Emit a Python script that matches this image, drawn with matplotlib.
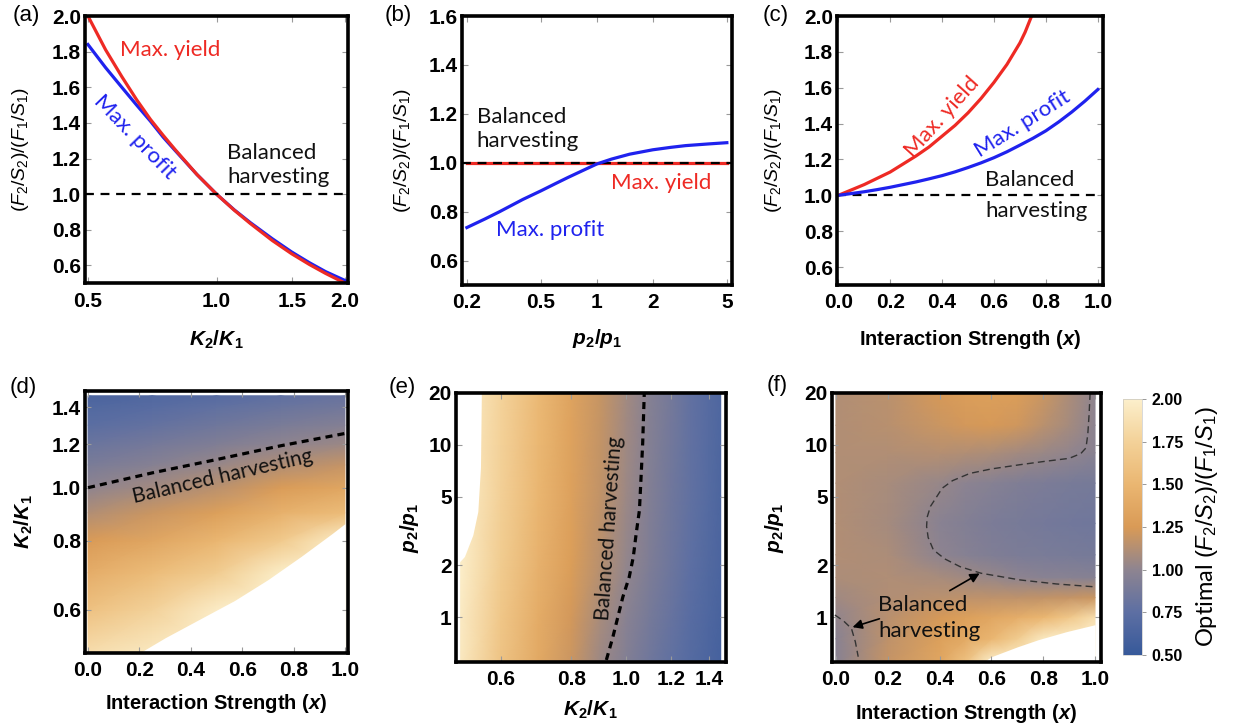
import numpy as np
import matplotlib
matplotlib.use('Agg')
import matplotlib.pyplot as plt
from matplotlib.colors import LinearSegmentedColormap

plt.rcParams['font.family'] = ['Liberation Sans', 'DejaVu Sans']
plt.rcParams['mathtext.fontset'] = 'custom'
plt.rcParams['mathtext.rm'] = 'Liberation Sans'
plt.rcParams['mathtext.it'] = 'Liberation Sans:italic'
plt.rcParams['mathtext.bf'] = 'Liberation Sans:bold'
plt.rcParams['mathtext.bfit'] = 'Liberation Sans:bold:italic'

RED = '#EE2A24'
BLUE = '#1F22EE'
NOTE = ['Lato', 'DejaVu Sans']

# ---- (a) ratio vs K2/K1
a_x = [0.5, 0.55, 0.6, 0.65, 0.7, 0.75, 0.8, 0.9, 1.0, 1.1, 1.2, 1.35, 1.5, 1.65, 1.8, 2.0]
a_yield = [2.0, 1.81, 1.66, 1.53, 1.42, 1.33, 1.25, 1.11, 1.0, 0.91, 0.835, 0.74, 0.665, 0.605, 0.555, 0.5]
a_profit = [1.84, 1.71, 1.60, 1.50, 1.41, 1.32, 1.245, 1.11, 1.0, 0.912, 0.84, 0.75, 0.675, 0.615, 0.565, 0.515]

# ---- (b) ratio vs p2/p1
b_x = [0.2, 0.25, 0.3, 0.4, 0.5, 0.6, 0.7, 0.85, 1.0, 1.2, 1.5, 2.0, 2.5, 3.0, 4.0, 5.0]
b_profit = [0.735, 0.77, 0.80, 0.85, 0.885, 0.915, 0.94, 0.97, 0.995, 1.015, 1.035, 1.053, 1.063, 1.07, 1.077, 1.082]
b_yield_x = [0.2, 5.0]
b_yield = [1.0, 1.0]

# ---- (c) ratio vs interaction strength
c_yield_x = [0.0, 0.05, 0.1, 0.15, 0.2, 0.25, 0.3, 0.35, 0.4, 0.45, 0.5, 0.55, 0.6, 0.65, 0.7, 0.72, 0.745]
c_yield = [1.0, 1.03, 1.06, 1.095, 1.13, 1.175, 1.22, 1.27, 1.33, 1.39, 1.46, 1.54, 1.63, 1.73, 1.85, 1.91, 2.0]
c_profit_x = [0.0, 0.05, 0.1, 0.15, 0.2, 0.25, 0.3, 0.35, 0.4, 0.45, 0.5, 0.55, 0.6, 0.65,
              0.7, 0.75, 0.8, 0.85, 0.9, 0.95, 1.0]
c_profit = [1.0, 1.01, 1.02, 1.032, 1.045, 1.06, 1.075, 1.092, 1.11, 1.131, 1.155, 1.181, 1.21, 1.243,
            1.28, 1.318, 1.36, 1.41, 1.465, 1.525, 1.59]

# ---- (d) heat map: interaction strength x K2/K1
d_x = [0.0, 0.25, 0.5, 0.75, 1.0]
d_K = [0.5, 0.6, 0.7, 0.8, 0.9, 1.0, 1.1, 1.2, 1.3, 1.4, 1.47]
d_vals = [  # one row per x value
    [1.85, 1.60, 1.42, 1.26, 1.12, 1.00, 0.90, 0.82, 0.74, 0.68, 0.63],
    [1.95, 1.75, 1.55, 1.36, 1.20, 1.07, 0.96, 0.87, 0.79, 0.72, 0.67],
    [2.00, 1.97, 1.70, 1.50, 1.30, 1.15, 1.03, 0.93, 0.84, 0.77, 0.71],
    [2.00, 2.00, 1.98, 1.68, 1.45, 1.27, 1.12, 1.00, 0.90, 0.82, 0.76],
    [2.00, 2.00, 2.00, 2.00, 1.55, 1.35, 1.18, 1.05, 0.95, 0.86, 0.80],
]
d_edge_x = [0.2, 0.3, 0.44, 0.57, 0.7, 0.83, 0.95, 1.0]
d_edge_K = [0.5, 0.533, 0.578, 0.623, 0.68, 0.75, 0.825, 0.86]
d_bal_x = [0.0, 0.25, 0.5, 0.75, 1.0]
d_bal_K = [1.0, 1.064, 1.125, 1.192, 1.255]

# ---- (e) heat map: K2/K1 x p2/p1
e_K = [0.508, 0.6, 0.7, 0.8, 0.9, 1.0, 1.1, 1.2, 1.3, 1.4, 1.47]
e_p = [0.55, 1.0, 2.0, 5.0, 20.0]
e_vals = [  # one row per p value
    [1.95, 1.62, 1.38, 1.20, 1.05, 0.94, 0.85, 0.77, 0.70, 0.64, 0.60],
    [1.97, 1.65, 1.41, 1.23, 1.09, 0.98, 0.88, 0.80, 0.72, 0.66, 0.62],
    [2.00, 1.70, 1.46, 1.28, 1.14, 1.02, 0.92, 0.83, 0.75, 0.68, 0.64],
    [2.00, 1.74, 1.50, 1.31, 1.17, 1.05, 0.94, 0.85, 0.77, 0.70, 0.65],
    [2.00, 1.76, 1.52, 1.33, 1.19, 1.07, 0.96, 0.87, 0.78, 0.71, 0.66],
]
e_edge_p = [0.55, 2.1, 2.25, 3.0, 4.1, 7.4, 20.0]
e_edge_K = [0.508, 0.508, 0.518, 0.536, 0.547, 0.553, 0.555]
e_bal_K = [0.923, 0.948, 0.967, 0.987, 1.013, 1.030, 1.042, 1.056, 1.063, 1.070, 1.077]
e_bal_p = [0.565, 0.77, 1.0, 1.31, 1.71, 2.24, 3.05, 4.18, 6.5, 10.2, 20.0]

# ---- (f) heat map: interaction strength x p2/p1
f_x = [0.0, 0.2, 0.4, 0.5, 0.6, 0.7, 0.8, 0.9, 1.0]
f_p = [0.55, 0.75, 1.0, 1.3, 1.7, 2.3, 3.5, 6.0, 9.0, 13.0, 20.0]
f_vals = [  # one row per p value
    [0.97, 1.18, 1.35, 1.60, 2.00, 2.00, 2.00, 2.00, 2.00],
    [0.98, 1.16, 1.30, 1.38, 1.50, 1.70, 1.95, 2.00, 2.00],
    [1.01, 1.14, 1.24, 1.30, 1.36, 1.42, 1.50, 1.65, 1.85],
    [1.06, 1.12, 1.15, 1.16, 1.16, 1.16, 1.17, 1.18, 1.20],
    [1.10, 1.11, 1.09, 1.06, 1.03, 1.00, 0.98, 0.97, 0.96],
    [1.12, 1.10, 1.00, 0.96, 0.93, 0.91, 0.90, 0.89, 0.88],
    [1.12, 1.08, 0.98, 0.94, 0.91, 0.89, 0.87, 0.86, 0.85],
    [1.12, 1.09, 1.03, 0.99, 0.96, 0.93, 0.91, 0.89, 0.88],
    [1.12, 1.12, 1.13, 1.12, 1.10, 1.07, 1.04, 1.01, 0.98],
    [1.12, 1.14, 1.20, 1.23, 1.24, 1.22, 1.15, 1.08, 0.99],
    [1.12, 1.15, 1.24, 1.28, 1.30, 1.28, 1.20, 1.10, 1.00],
]
f_edge_x = [0.57, 0.6, 0.7, 0.78, 0.89, 1.0]
f_edge_p = [0.55, 0.59, 0.673, 0.74, 0.825, 0.905]
f_bal_x = [0.981, 0.977, 0.972, 0.965, 0.945, 0.90, 0.80, 0.71, 0.60, 0.517, 0.45, 0.41, 0.389, 0.365,
           0.352, 0.35, 0.356, 0.376, 0.42, 0.479, 0.56, 0.71, 0.85, 0.993]
f_bal_p = [20.0, 15.0, 11.5, 9.6, 8.9, 8.35, 8.0, 7.67, 7.25, 6.83, 6.2, 5.6, 5.0, 4.4,
           3.8, 3.36, 2.9, 2.46, 2.18, 1.965, 1.8, 1.646, 1.56, 1.503]
f_bal2_x = [-0.004, 0.03, 0.06, 0.075, 0.086]
f_bal2_p = [1.03, 0.95, 0.86, 0.72, 0.59]

cbar_ticks = [0.5, 0.75, 1.0, 1.25, 1.5, 1.75, 2.0]
cmap_colors = ['#37599A', '#5D6FA3', '#8E8490', '#D99A56', '#EAB671', '#F3D198', '#FCEFCB']

cmap = LinearSegmentedColormap.from_list('sunset', list(zip(np.linspace(0, 1, 7), cmap_colors)))

fig = plt.figure(figsize=(12.35, 7.28), dpi=100)

ax_a = fig.add_axes([0.0688, 0.611, 0.213, 0.367])
ax_b = fig.add_axes([0.374, 0.6085, 0.2186, 0.3695])
ax_c = fig.add_axes([0.6777, 0.6085, 0.2154, 0.3695])
ax_d = fig.add_axes([0.0688, 0.103, 0.213, 0.36])
ax_e = fig.add_axes([0.369, 0.0907, 0.2186, 0.3695])
ax_f = fig.add_axes([0.6737, 0.0907, 0.2178, 0.3695])
cax = fig.add_axes([0.9093, 0.1003, 0.0154, 0.3516])


def frame(ax, xt, xl, yt, yl):
    ax.set_xticks(xt, xl, fontweight='bold', fontsize=15)
    ax.set_yticks(yt, yl, fontweight='bold', fontsize=15)
    ax.minorticks_off()
    ax.tick_params(direction='in', length=4, width=0.8, color='#9a9a9a',
                   top=True, right=True)
    ax.tick_params(axis='x', pad=6)
    ax.tick_params(axis='y', pad=3)
    for s in ax.spines.values():
        s.set_linewidth(2.6)
        s.set_color('black')


def heat(ax, xs, ys, vals):
    X, Y = np.meshgrid(xs, ys)
    return ax.pcolormesh(X, Y, np.array(vals), cmap=cmap, vmin=0.5, vmax=2.0,
                         shading='gouraud', zorder=0, rasterized=True)


ratio_label = r'$(F_2/S_2)/(F_1/S_1)$'
K_label = r'$\mathbfit{K}_\mathbf{2}\mathbf{/}\mathbfit{K}_\mathbf{1}$'
p_label = r'$\mathbfit{p}_\mathbf{2}\mathbf{/}\mathbfit{p}_\mathbf{1}$'
x_label = r'Interaction Strength ($\mathbfit{x}$)'
r_ticks = [0.6, 0.8, 1.0, 1.2, 1.4, 1.6, 1.8, 2.0]
r_lbls = ['%.1f' % t for t in r_ticks]
s_ticks = [0.0, 0.2, 0.4, 0.6, 0.8, 1.0]
s_lbls = ['%.1f' % t for t in s_ticks]

# (a)
ax = ax_a
ax.set_xscale('log')
ax.plot(a_x, a_profit, color=BLUE, lw=2.3)
ax.plot(a_x, a_yield, color=RED, lw=2.3)
ax.axhline(1.0, color='black', lw=1.6, ls=(0, (4, 3)))
ax.set_xlim(0.492, 2.032)
ax.set_ylim(0.5, 2.0)
frame(ax, [0.5, 1.0, 1.5, 2.0], ['0.5', '1.0', '1.5', '2.0'], r_ticks, r_lbls)
ax.text(0.781, 1.81, 'Max. yield', color=RED, fontsize=16, family=NOTE, ha='center', va='center')
ax.text(0.644, 1.32, 'Max. profit', color=BLUE, fontsize=16, family=NOTE, ha='center', va='center', rotation=-46)
ax.text(1.06, 1.165, 'Balanced\nharvesting', color='#111111', fontsize=16, family=NOTE, ha='left', va='center', linespacing=1.25)
ax.set_ylabel(ratio_label, fontsize=14)
ax.yaxis.set_label_coords(-0.205, 0.5)
ax.set_xlabel(K_label, fontsize=15)
ax.xaxis.set_label_coords(0.5, -0.17)

# (b)
ax = ax_b
ax.set_xscale('log')
ax.plot(b_yield_x, b_yield, color=RED, lw=2.3)
ax.axhline(1.0, color='black', lw=1.6, ls=(0, (4, 3)))
ax.plot(b_x, b_profit, color=BLUE, lw=2.3)
ax.set_xlim(0.188, 5.32)
ax.set_ylim(0.5, 1.6)
frame(ax, [0.2, 0.5, 1, 2, 5], ['0.2', '0.5', '1', '2', '5'],
      [0.6, 0.8, 1.0, 1.2, 1.4, 1.6], ['0.6', '0.8', '1.0', '1.2', '1.4', '1.6'])
ax.text(0.226, 1.138, 'Balanced\nharvesting', color='#111111', fontsize=16, family=NOTE, ha='left', va='center', linespacing=1.25)
ax.text(2.21, 0.917, 'Max. yield', color=RED, fontsize=16, family=NOTE, ha='center', va='center')
ax.text(0.558, 0.725, 'Max. profit', color=BLUE, fontsize=16, family=NOTE, ha='center', va='center')
ax.set_ylabel(ratio_label, fontsize=14)
ax.yaxis.set_label_coords(-0.18, 0.5)
ax.set_xlabel(p_label, fontsize=15)
ax.xaxis.set_label_coords(0.5, -0.155)

# (c)
ax = ax_c
ax.axhline(1.0, color='black', lw=1.6, ls=(0, (4, 3)))
ax.plot(c_yield_x, c_yield, color=RED, lw=2.3)
ax.plot(c_profit_x, c_profit, color=BLUE, lw=2.3)
ax.set_xlim(-0.005, 1.02)
ax.set_ylim(0.5, 2.0)
frame(ax, s_ticks, s_lbls, r_ticks, r_lbls)
ax.text(0.40, 1.436, 'Max. yield', color=RED, fontsize=16, family=NOTE, ha='center', va='center', rotation=48)
ax.text(0.71, 1.40, 'Max. profit', color=BLUE, fontsize=16, family=NOTE, ha='center', va='center', rotation=32)
ax.text(0.565, 1.084, 'Balanced', color='#111111', fontsize=16, family=NOTE, ha='left', va='center')
ax.text(0.565, 0.911, 'harvesting', color='#111111', fontsize=16, family=NOTE, ha='left', va='center')
ax.set_ylabel(ratio_label, fontsize=14)
ax.yaxis.set_label_coords(-0.2, 0.5)
ax.set_xlabel(x_label, fontsize=14.5, fontweight='bold')
ax.xaxis.set_label_coords(0.5, -0.16)

# (d)
ax = ax_d
ax.set_yscale('log')
mesh = heat(ax, d_x, d_K, np.array(d_vals).T)
ax.fill_between(d_edge_x, 0.45, d_edge_K, color='white', lw=0, zorder=1)
ax.plot(d_bal_x, d_bal_K, color='black', lw=2.3, ls=(0, (2.2, 1.6)), zorder=2)
ax.set_xlim(-0.012, 1.012)
ax.set_ylim(0.5, 1.5)
frame(ax, s_ticks, s_lbls, [0.6, 0.8, 1.0, 1.2, 1.4], ['0.6', '0.8', '1.0', '1.2', '1.4'])
ax.text(0.525, 1.046, 'Balanced harvesting', color='#111111', fontsize=15, family=NOTE, ha='center', va='center', rotation=13)
ax.set_ylabel(K_label, fontsize=15)
ax.yaxis.set_label_coords(-0.19, 0.5)
ax.set_xlabel(x_label, fontsize=14.5, fontweight='bold')
ax.xaxis.set_label_coords(0.5, -0.15)

# (e)
ax = ax_e
ax.set_xscale('log')
ax.set_yscale('log')
heat(ax, e_K, e_p, e_vals)
ax.fill_betweenx(e_edge_p, 0.45, e_edge_K, color='white', lw=0, zorder=1)
ax.plot(e_bal_K, e_bal_p, color='black', lw=2.3, ls=(0, (2.2, 1.6)), zorder=2)
ax.set_xlim(0.5, 1.5)
ax.set_ylim(0.55, 20)
frame(ax, [0.6, 0.8, 1.0, 1.2, 1.4], ['0.6', '0.8', '1.0', '1.2', '1.4'],
      [1, 2, 5, 10, 20], ['1', '2', '5', '10', '20'])
ax.text(0.935, 3.3, 'Balanced harvesting', color='#111111', fontsize=15, family=NOTE, ha='center', va='center', rotation=86)
ax.set_ylabel(p_label, fontsize=15)
ax.yaxis.set_label_coords(-0.13, 0.5)
ax.set_xlabel(K_label, fontsize=15)
ax.xaxis.set_label_coords(0.5, -0.135)

# (f)
ax = ax_f
ax.set_yscale('log')
heat(ax, f_x, f_p, f_vals)
ax.fill_between(f_edge_x, 0.5, f_edge_p, color='white', lw=0, zorder=1)
ax.plot(f_bal_x, f_bal_p, color='#333333', lw=1.0, ls=(0, (5, 3)), zorder=2)
ax.plot(f_bal2_x, f_bal2_p, color='#333333', lw=1.0, ls=(0, (5, 3)), zorder=2)
ax.set_xlim(-0.015, 1.023)
ax.set_ylim(0.55, 20)
frame(ax, s_ticks, s_lbls, [1, 2, 5, 10, 20], ['1', '2', '5', '10', '20'])
ax.text(0.162, 0.99, 'Balanced\nharvesting', color='#111111', fontsize=16, family=NOTE, ha='left', va='center', linespacing=1.35, zorder=3)
ax.annotate('', xy=(0.564, 1.83), xytext=(0.43, 1.40),
            arrowprops=dict(arrowstyle='-|>', color='black', lw=1.2, mutation_scale=14), zorder=3)
ax.annotate('', xy=(0.054, 0.866), xytext=(0.178, 0.99),
            arrowprops=dict(arrowstyle='-|>', color='black', lw=1.2, mutation_scale=14), zorder=3)
ax.set_ylabel(p_label, fontsize=15)
ax.yaxis.set_label_coords(-0.17, 0.5)
ax.set_xlabel(x_label, fontsize=14.5, fontweight='bold')
ax.xaxis.set_label_coords(0.5, -0.15)

# colour bar
cb = fig.colorbar(mesh, cax=cax)
cb.set_ticks(cbar_ticks, labels=['%.2f' % t for t in cbar_ticks], fontweight='bold', fontsize=11.5)
cb.outline.set_linewidth(0.4)
cb.outline.set_edgecolor('#bbbbbb')
cax.tick_params(length=3, width=0.6, color='#888888', pad=4)
fig.text(1207 / 1235, 1 - 527 / 728, r'Optimal $(F_2/S_2)/(F_1/S_1)$', rotation=90,
         fontsize=17, family=NOTE, ha='center', va='center')

# panel letters
for lbl, px, py in [('(a)', 26, 16), ('(b)', 398, 16), ('(c)', 776, 16),
                    ('(d)', 23, 387), ('(e)', 402, 387), ('(f)', 777, 385)]:
    fig.text(px / 1235, 1 - py / 728, lbl, fontsize=16, ha='center', va='center')

fig.savefig('out.png', dpi=100)
